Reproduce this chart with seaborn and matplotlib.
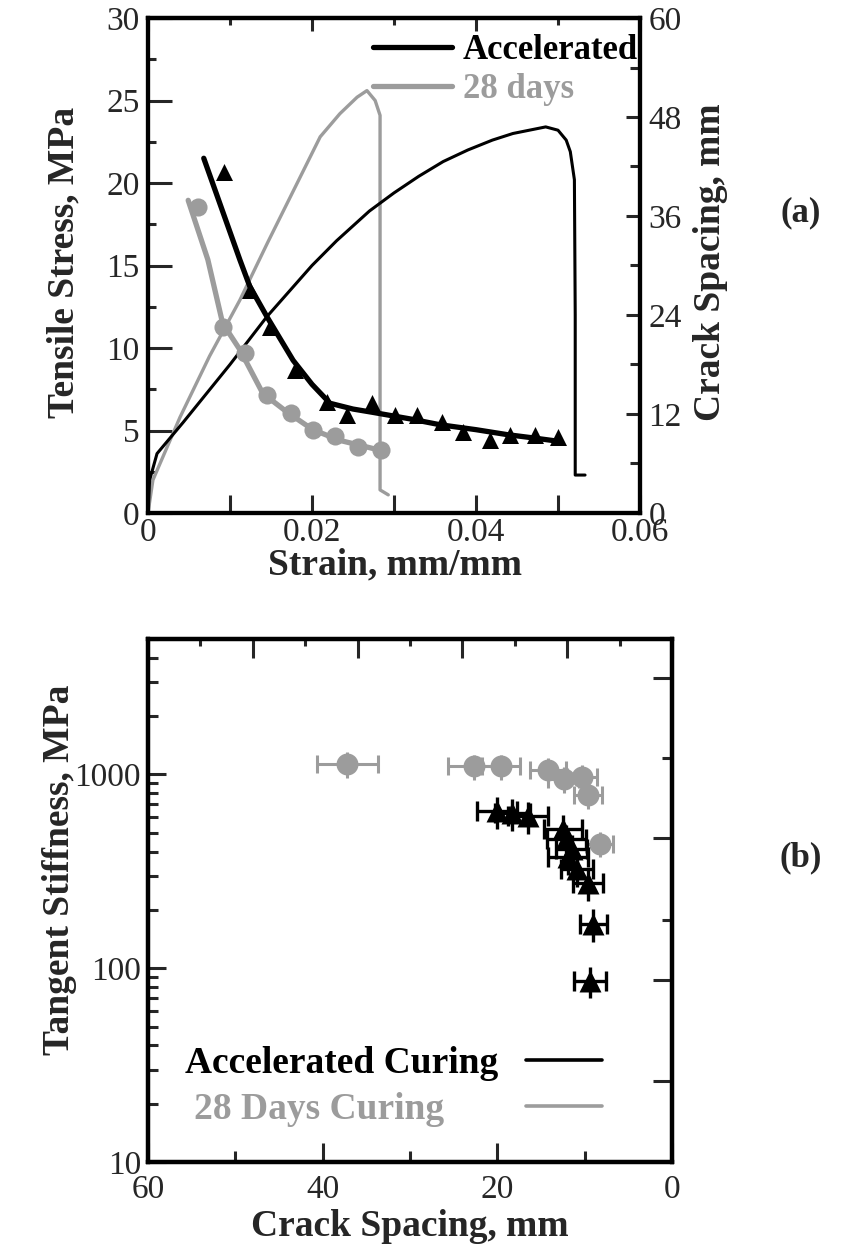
import numpy as np
import pandas as pd
import matplotlib
matplotlib.use("Agg")
import matplotlib.pyplot as plt
import seaborn as sns
from matplotlib.ticker import MultipleLocator, FixedLocator, NullFormatter, FixedFormatter, LogLocator
from matplotlib.lines import Line2D

# ---------------- data: panel (a) ----------------
acc_strain = [0.0, 0.0002, 0.0011, 0.0043, 0.0100, 0.0145, 0.0200, 0.0230, 0.0270, 0.0300,
              0.0330, 0.0360, 0.0390, 0.0420, 0.0445, 0.0470, 0.0485, 0.0500, 0.0510,
              0.0515, 0.0520, 0.0521, 0.0521, 0.0533]
acc_stress = [0.0, 2.0, 3.6, 5.5, 9.0, 11.9, 15.0, 16.5, 18.3, 19.4,
              20.4, 21.3, 22.0, 22.6, 23.0, 23.25, 23.4, 23.2, 22.6,
              21.9, 20.2, 12.0, 2.3, 2.3]

d28_strain = [0.0, 0.0006, 0.0039, 0.0075, 0.0112, 0.0146, 0.0180, 0.0210, 0.0234,
              0.0255, 0.0267, 0.0277, 0.0283, 0.0283, 0.0293]
d28_stress = [0.0, 2.0, 5.8, 9.5, 12.9, 16.4, 19.8, 22.8, 24.2,
              25.2, 25.6, 25.0, 24.1, 1.4, 1.1]

acc_cs_strain = [0.0093, 0.0124, 0.0149, 0.0179, 0.0218, 0.0243, 0.0273, 0.0301, 0.0328,
                 0.0358, 0.0384, 0.0417, 0.0441, 0.0472, 0.0500]
acc_cs = [41.3, 27.0, 22.5, 17.3, 13.5, 11.9, 13.3, 11.9, 11.9,
          11.0, 9.8, 8.8, 9.4, 9.4, 9.2]
acc_fit_strain = [0.0068, 0.0112, 0.0124, 0.0145, 0.0177, 0.0200, 0.0222, 0.0250, 0.0274,
                  0.0320, 0.0356, 0.0400, 0.0438, 0.0470, 0.0500]
acc_fit_cs = [43.0, 30.7, 27.5, 23.8, 18.5, 15.6, 13.3, 12.6, 12.2,
              11.4, 10.7, 10.1, 9.5, 9.1, 8.7]

d28_cs_strain = [0.0061, 0.0091, 0.0118, 0.0145, 0.0174, 0.0201, 0.0228, 0.0256, 0.0284]
d28_cs = [37.1, 22.5, 19.4, 14.3, 12.1, 10.1, 9.3, 8.0, 7.6]
d28_fit_strain = [0.0049, 0.0073, 0.0091, 0.0112, 0.0140, 0.0170, 0.0201, 0.0234, 0.0267, 0.0283]
d28_fit_cs = [37.9, 30.7, 23.0, 19.8, 14.5, 12.2, 10.1, 8.8, 8.0, 7.6]

# ---------------- data: panel (b) ----------------
acc_spacing = [20.0, 18.3, 16.5, 12.5, 12.1, 11.5, 11.9, 10.9, 9.6, 9.0, 9.4]
acc_spacing_err = [2.3, 2.0, 2.3, 2.2, 2.2, 1.8, 2.3, 1.8, 1.7, 1.5, 1.8]
acc_stiff = [645, 630, 607, 521, 462, 411, 373, 324, 274, 169, 86]
acc_stiff_err = [120, 118, 114, 98, 87, 77, 70, 61, 52, 32, 16]

d28_spacing = [37.2, 22.7, 19.6, 14.2, 12.4, 10.3, 9.6, 8.3]
d28_spacing_err = [3.5, 2.9, 2.2, 2.1, 1.8, 1.7, 1.6, 1.5]
d28_stiff = [1130, 1100, 1100, 1060, 945, 970, 780, 440]
d28_stiff_err = [170, 165, 165, 160, 142, 146, 117, 66]

legend_a = ["Accelerated", "28 days"]
legend_b = ["Accelerated Curing", "28 Days Curing"]

BLACK = "black"
GRAY = "#9c9c9c"

sns.set_theme(style="ticks")
plt.rcParams["font.family"] = ["Liberation Serif", "DejaVu Serif"]

W, H = 844, 1255
fig = plt.figure(figsize=(W / 100, H / 100), dpi=100)


def fx(px):
    return px / W


def fy(py):
    return 1 - py / H


TICK_FS = 24
LAB_FS = 27

# ================= panel (a) =================
ax1 = fig.add_axes([fx(148), fy(513), fx(640) - fx(148), fy(18) - fy(513)])
df_acc = pd.DataFrame({"strain": acc_strain, "stress": acc_stress})
df_d28 = pd.DataFrame({"strain": d28_strain, "stress": d28_stress})
sns.lineplot(data=df_d28, x="strain", y="stress", ax=ax1, color=GRAY, lw=2.4,
             sort=False, estimator=None)
sns.lineplot(data=df_acc, x="strain", y="stress", ax=ax1, color=BLACK, lw=2.2,
             sort=False, estimator=None)
ax1.set_xlim(0, 0.06)
ax1.set_ylim(0, 30)
ax1.set_xlabel("")
ax1.set_ylabel("")
ax1.xaxis.set_major_locator(FixedLocator([0, 0.02, 0.04, 0.06]))
ax1.xaxis.set_major_formatter(FixedFormatter(["0", "0.02", "0.04", "0.06"]))
ax1.xaxis.set_minor_locator(MultipleLocator(0.01))
ax1.yaxis.set_major_locator(MultipleLocator(5))
ax1.yaxis.set_minor_locator(MultipleLocator(2.5))
ax1.tick_params(axis="x", which="both", direction="in", length=13, width=2.2,
                labelsize=TICK_FS, pad=3, bottom=True, top=False)
ax1.tick_params(axis="y", which="major", direction="in", length=17, width=2.2,
                labelsize=TICK_FS, pad=6, left=True, right=False)
ax1.tick_params(axis="y", which="minor", direction="in", length=6, width=2.2,
                left=True, right=False)

sec = ax1.secondary_xaxis("top")
sec.xaxis.set_major_locator(MultipleLocator(0.02))
sec.xaxis.set_minor_locator(MultipleLocator(0.01))
sec.xaxis.set_major_formatter(NullFormatter())
sec.tick_params(axis="x", which="major", direction="in", length=9, width=2.2)
sec.tick_params(axis="x", which="minor", direction="in", length=5, width=2.2)
sec.spines["top"].set_linewidth(3)

ax1r = ax1.twinx()
df_accfit = pd.DataFrame({"strain": acc_fit_strain, "cs": acc_fit_cs})
df_d28fit = pd.DataFrame({"strain": d28_fit_strain, "cs": d28_fit_cs})
df_accpts = pd.DataFrame({"strain": acc_cs_strain, "cs": acc_cs})
df_d28pts = pd.DataFrame({"strain": d28_cs_strain, "cs": d28_cs})
sns.lineplot(data=df_d28fit, x="strain", y="cs", ax=ax1r, color=GRAY, lw=3.8,
             sort=False, estimator=None)
sns.scatterplot(data=df_d28pts, x="strain", y="cs", ax=ax1r, color=GRAY, marker="o",
                s=170, linewidth=0)
sns.lineplot(data=df_accfit, x="strain", y="cs", ax=ax1r, color=BLACK, lw=3.8,
             sort=False, estimator=None)
sns.scatterplot(data=df_accpts, x="strain", y="cs", ax=ax1r, color=BLACK, marker="^",
                s=150, linewidth=0)
ax1r.set_ylim(0, 60)
ax1r.set_xlim(0, 0.06)
ax1r.set_xlabel("")
ax1r.set_ylabel("")
ax1r.yaxis.set_major_locator(MultipleLocator(12))
ax1r.yaxis.set_minor_locator(MultipleLocator(6))
ax1r.tick_params(axis="y", which="major", direction="in", length=10, width=2.2,
                 labelsize=TICK_FS, pad=6)
ax1r.tick_params(axis="y", which="minor", direction="in", length=7, width=2.2)
for a in (ax1, ax1r):
    for s in a.spines.values():
        s.set_linewidth(3)
        s.set_color("black")

handles_a = [Line2D([], [], color=BLACK, lw=3.8), Line2D([], [], color=GRAY, lw=3.8)]
leg = ax1r.legend(handles_a, legend_a, loc="upper right", bbox_to_anchor=(0.996, 0.968),
                  frameon=False, borderpad=0, borderaxespad=0, handlelength=2.3,
                  handletextpad=0.3, labelspacing=0.17,
                  prop={"family": "Liberation Serif", "weight": "bold", "size": 25})
for t, c in zip(leg.get_texts(), [BLACK, GRAY]):
    t.set_color(c)

fig.text(fx(64), fy(262), "Tensile Stress, MPa", rotation=90, ha="center", va="center",
         fontsize=LAB_FS, fontweight="bold")
fig.text(fx(711), fy(262), "Crack Spacing, mm", rotation=90, ha="center", va="center",
         fontsize=LAB_FS, fontweight="bold")
fig.text(fx(395), fy(565), "Strain, mm/mm", ha="center", va="center",
         fontsize=LAB_FS, fontweight="bold")
fig.text(fx(801), fy(213), "(a)", ha="center", va="center", fontsize=25, fontweight="bold")

# ================= panel (b) =================
ax2 = fig.add_axes([fx(148), fy(1162), fx(672) - fx(148), fy(639) - fy(1162)])
ax2.errorbar(d28_spacing, d28_stiff, xerr=d28_spacing_err, fmt="none", ecolor=GRAY,
             elinewidth=2.2, capsize=6.5, capthick=2.2)
ax2.errorbar(d28_spacing, d28_stiff, yerr=d28_stiff_err, fmt="none", ecolor=GRAY,
             elinewidth=2.2, capsize=0)
df_b28 = pd.DataFrame({"spacing": d28_spacing, "stiff": d28_stiff})
sns.scatterplot(data=df_b28, x="spacing", y="stiff", ax=ax2, color=GRAY, marker="o",
                s=250, linewidth=0, zorder=3)
ax2.errorbar(acc_spacing, acc_stiff, xerr=acc_spacing_err, fmt="none", ecolor=BLACK,
             elinewidth=2.4, capsize=7, capthick=2.4, zorder=4)
ax2.errorbar(acc_spacing, acc_stiff, yerr=acc_stiff_err, fmt="none", ecolor=BLACK,
             elinewidth=2.4, capsize=0, zorder=4)
df_bacc = pd.DataFrame({"spacing": acc_spacing, "stiff": acc_stiff})
sns.scatterplot(data=df_bacc, x="spacing", y="stiff", ax=ax2, color=BLACK, marker="^",
                s=250, linewidth=0, zorder=5)
ax2.set_yscale("log")
ax2.set_ylim(10, 5000)
ax2.set_xlim(60, 0)
ax2.set_xlabel("")
ax2.set_ylabel("")
ax2.xaxis.set_major_locator(FixedLocator([60, 40, 20, 0]))
ax2.xaxis.set_major_formatter(FixedFormatter(["60", "40", "20", "0"]))
ax2.xaxis.set_minor_locator(FixedLocator([50, 30, 10]))
ax2.yaxis.set_major_locator(FixedLocator([10, 100, 1000]))
ax2.yaxis.set_major_formatter(FixedFormatter(["10", "100", "1000"]))
ax2.yaxis.set_minor_locator(LogLocator(base=10, subs=np.arange(2, 10)))
ax2.yaxis.set_minor_formatter(NullFormatter())
ax2.tick_params(axis="x", which="major", direction="in", length=14, width=2.2,
                labelsize=TICK_FS, pad=9, top=False)
ax2.tick_params(axis="x", which="minor", direction="in", length=8, width=2.2, top=False)
ax2.tick_params(axis="y", which="major", direction="in", length=13, width=2.2,
                labelsize=TICK_FS, pad=5, right=False)
ax2.tick_params(axis="y", which="minor", direction="in", length=7, width=2.2, right=False)

ax2t = ax2.twiny()
ax2t.set_xlim(60, 0)
ax2t.xaxis.set_major_locator(MultipleLocator(12))
ax2t.xaxis.set_minor_locator(MultipleLocator(6))
ax2t.xaxis.set_major_formatter(NullFormatter())
ax2t.tick_params(axis="x", which="major", direction="in", length=14, width=2.2)
ax2t.tick_params(axis="x", which="minor", direction="in", length=5, width=2.2)

ax2r = ax2.twinx()
ax2r.set_ylim(0, 523)
ax2r.yaxis.set_major_locator(FixedLocator([484, 324, 182, 81]))
ax2r.yaxis.set_minor_locator(FixedLocator([404, 242]))
ax2r.yaxis.set_major_formatter(NullFormatter())
ax2r.tick_params(axis="y", which="major", direction="in", length=14, width=2.2)
ax2r.tick_params(axis="y", which="minor", direction="in", length=7, width=2.2)
for a in (ax2, ax2t, ax2r):
    for s in a.spines.values():
        s.set_linewidth(3)
        s.set_color("black")

# legend of panel (b): label on the left, line sample on the right
for lab, col, ty, ly, lx0 in [(legend_b[0], BLACK, 1073, 1060, 185),
                              (legend_b[1], GRAY, 1119, 1106, 194)]:
    ax2.text((lx0 - 148) / 524, (1162 - ty) / 523, lab, transform=ax2.transAxes,
             ha="left", va="baseline", fontsize=27, fontweight="bold", color=col)
    ax2.add_line(Line2D([(526 - 148) / 524, (602 - 148) / 524],
                        [(1162 - ly) / 523] * 2, transform=ax2.transAxes,
                        color=col, lw=2.6))

fig.text(fx(60), fy(870), "Tangent Stiffness, MPa", rotation=90, ha="center", va="center",
         fontsize=LAB_FS, fontweight="bold")
fig.text(fx(410), fy(1226), "Crack Spacing, mm", ha="center", va="center",
         fontsize=LAB_FS, fontweight="bold")
fig.text(fx(801), fy(858), "(b)", ha="center", va="center", fontsize=25, fontweight="bold")

fig.savefig("out.png", dpi=100)
